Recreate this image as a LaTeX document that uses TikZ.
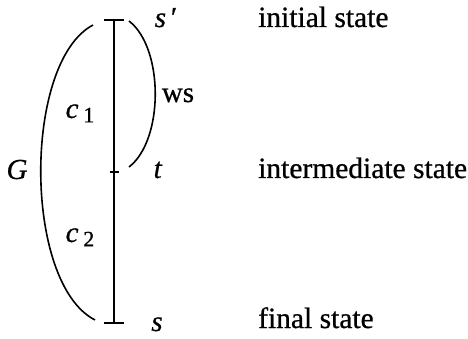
\documentclass[tikz,border=0pt]{standalone}
\usepackage{fontspec}
\setmainfont{Liberation Serif}[FakeBold=0.7,ItalicFeatures={FakeBold=0.7}]
\begin{document}
\begin{tikzpicture}[x=1pt,y=-1pt,
  ln/.style={line width=1.6pt},
  lbl/.style={inner sep=0pt,anchor=base,font=\fontsize{29}{29}\selectfont},
  txt/.style={inner sep=0pt,anchor=base west,font=\fontsize{29.5}{30}\selectfont}]
\useasboundingbox (0,0) rectangle (468,339);
% state points on the line
\coordinate (top) at (114,20);
\coordinate (mid) at (114,172);
\coordinate (bot) at (114,323);
% bar with ticks
\draw[ln] (top) -- (bot);
\draw[ln] ([xshift=-10pt]top) -- ([xshift=10pt]top);
\draw[ln] ([xshift=-4.5pt]mid) -- ([xshift=4.5pt]mid);
\draw[ln] ([xshift=-10pt]bot) -- ([xshift=10pt]bot);
% arc G
\coordinate (gt) at (93,25);
\coordinate (gb) at (95,320);
\draw[ln] (gt) .. controls (23,62) and (23,283) .. (gb);
% arc ws
\coordinate (wt) at (129,21);
\coordinate (wb) at (129,167);
\draw[ln] (wt) .. controls (164,48) and (164,140) .. (wb);
% labels
\node[lbl] (sp) at (166,27) {\textit{s}\,′};
\node[lbl] (t) at (158,178) {\textit{t}};
\node[lbl] (s) at (157,331) {\textit{s}};
\node[lbl] (G) at (17,179) {\textit{G}};
\node[lbl] (ws) at (178,102) {ws};
\node[lbl] (c1) at (80,118) {\textit{c}\,\raisebox{-0.15em}{\fontsize{22}{22}\selectfont 1}};
\node[lbl] (c2) at (80,242) {\textit{c}\,\raisebox{-0.15em}{\fontsize{22}{22}\selectfont 2}};
\node[txt] (is) at (258,27) {initial state};
\node[txt] (ms) at (258,178) {intermediate state};
\node[txt] (fs) at (258,328) {final state};
\end{tikzpicture}
\end{document}
